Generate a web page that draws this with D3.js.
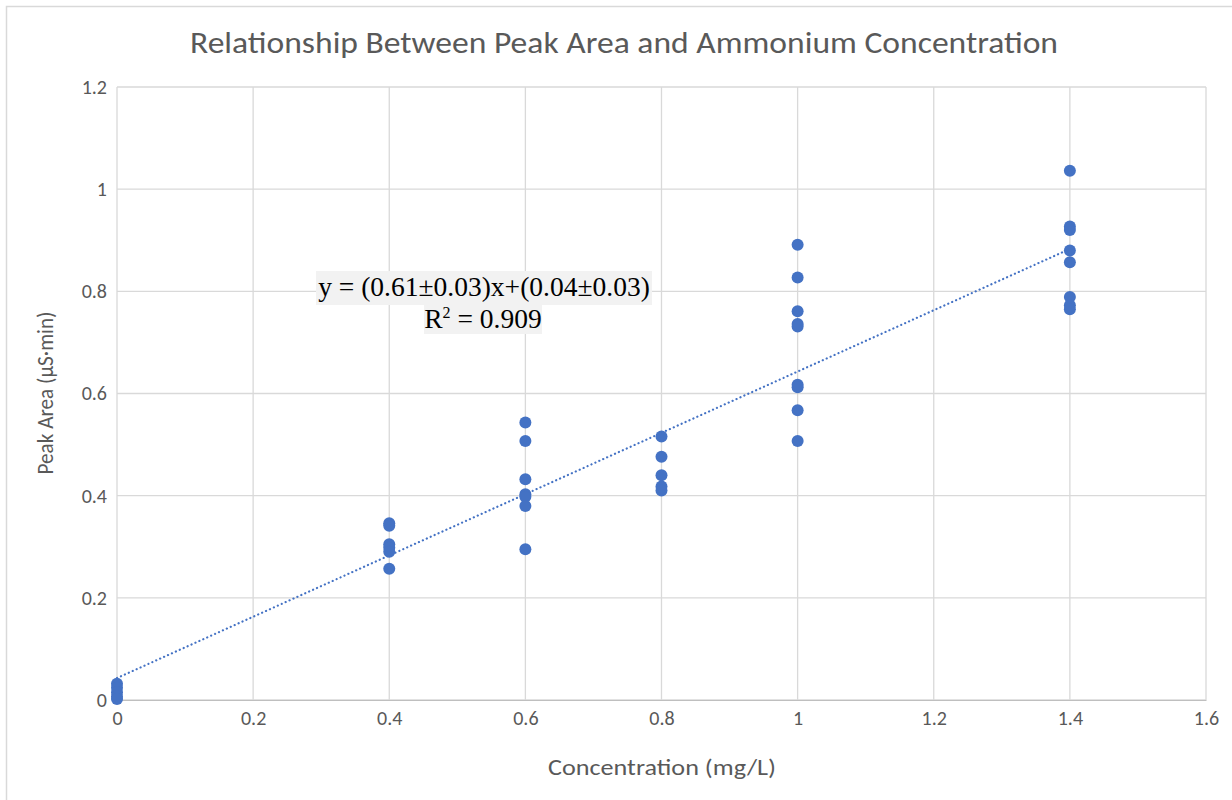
<!DOCTYPE html>
<html><head><meta charset="utf-8">
<script src="https://cdn.jsdelivr.net/npm/d3@7"></script>
<style>body{margin:0;background:#fff;} svg{display:block;}</style>
</head><body><svg id="c" width="1232" height="800"></svg>
<script>
const concentrations = [0,0,0,0,0, 0.4,0.4,0.4,0.4,0.4,0.4, 0.6,0.6,0.6,0.6,0.6,0.6,0.6, 0.8,0.8,0.8,0.8,0.8, 1,1,1,1,1,1,1,1,1, 1.4,1.4,1.4,1.4,1.4,1.4,1.4,1.4];
const peakAreas = [0.032,0.024,0.015,0.007,0.002, 0.346,0.341,0.305,0.298,0.290,0.257, 0.543,0.507,0.432,0.403,0.398,0.380,0.295, 0.516,0.476,0.440,0.418,0.410, 0.891,0.827,0.761,0.736,0.731,0.617,0.612,0.567,0.507, 1.036,0.927,0.920,0.880,0.857,0.789,0.773,0.765];
const xTicks = [0,0.2,0.4,0.6,0.8,1,1.2,1.4,1.6];
const yTicks = [0,0.2,0.4,0.6,0.8,1,1.2];
const trendSlope = 0.60, trendIntercept = 0.043;
const title = "Relationship Between Peak Area and Ammonium Concentration";
const xTitle = "Concentration (mg/L)";
const yTitle = "Peak Area (µS·min)";
const eqLine1 = "y = (0.61±0.03)x+(0.04±0.03)";

const svg = d3.select("#c");
const L=117,R=1206,T=87,B=700;
const x = d3.scaleLinear().domain([0,1.6]).range([L,R]);
const y = d3.scaleLinear().domain([0,1.2]).range([B,T]);
const gray="#595959", grid="#d9d9d9";
const sans="Carlito, Lato, sans-serif";

svg.append("rect").attr("x",6.5).attr("y",6.5).attr("width",1240).attr("height",800).attr("fill","none").attr("stroke",grid).attr("stroke-width",1.5);

svg.append("g").selectAll("line.v").data(xTicks).join("line")
  .attr("x1",d=>x(d)).attr("x2",d=>x(d)).attr("y1",T).attr("y2",B).attr("stroke",grid).attr("stroke-width",1.3);
svg.append("g").selectAll("line.h").data(yTicks).join("line")
  .attr("x1",L).attr("x2",R).attr("y1",d=>y(d)).attr("y2",d=>y(d)).attr("stroke",grid).attr("stroke-width",1.3);

const xAxis = svg.append("g").attr("transform",`translate(0,${B})`).call(d3.axisBottom(x).tickValues(xTicks).tickFormat(d=>String(d)).tickSize(0).tickPadding(11));
xAxis.select(".domain").attr("stroke","#bfbfbf");
xAxis.selectAll("text").attr("fill",gray).style("font-family",sans).style("font-size","20px");
const yAxis = svg.append("g").attr("transform",`translate(${L},0)`).call(d3.axisLeft(y).tickValues(yTicks).tickFormat(d=>String(d)).tickSize(0).tickPadding(10));
yAxis.select(".domain").remove();
yAxis.selectAll("text").attr("fill",gray).style("font-family",sans).style("font-size","20px");

// trendline
svg.append("line").attr("x1",x(0)).attr("y1",y(trendIntercept)).attr("x2",x(1.4)).attr("y2",y(trendIntercept+trendSlope*1.4))
  .attr("stroke","#4472C4").attr("stroke-width",2.2).attr("stroke-dasharray","0.1 4.2").attr("stroke-linecap","round");

// points
svg.append("g").selectAll("circle").data(d3.range(concentrations.length)).join("circle")
  .attr("cx",i=>x(concentrations[i])).attr("cy",i=>y(peakAreas[i])).attr("r",6).attr("fill","#4472C4");

// titles
svg.append("text").attr("x",624).attr("y",53).attr("text-anchor","middle").attr("fill",gray)
  .attr("textLength",868).attr("lengthAdjust","spacingAndGlyphs")
  .style("font-family",sans).style("font-size","31px").text(title);
svg.append("text").attr("x",662).attr("y",775).attr("text-anchor","middle").attr("fill",gray)
  .attr("textLength",228).attr("lengthAdjust","spacingAndGlyphs")
  .style("font-family",sans).style("font-size","23px").text(xTitle);
svg.append("text").attr("transform","translate(53,393) rotate(-90)").attr("text-anchor","middle").attr("fill",gray)
  .attr("textLength",163).attr("lengthAdjust","spacingAndGlyphs")
  .style("font-family",sans).style("font-size","23px").text(yTitle);

// equation label
svg.append("rect").attr("x",316).attr("y",271).attr("width",336).attr("height",34).attr("fill","#f2f2f2");
svg.append("rect").attr("x",424).attr("y",305).attr("width",118).attr("height",29).attr("fill","#f2f2f2");
svg.append("text").attr("x",484).attr("y",296).attr("text-anchor","middle").attr("fill","#000")
  .style("font-family","'Liberation Serif', serif").style("font-size","27.5px").text(eqLine1);
const r2 = svg.append("text").attr("x",483).attr("y",328).attr("text-anchor","middle").attr("fill","#000")
  .style("font-family","'Liberation Serif', serif").style("font-size","27.5px");
r2.append("tspan").text("R");
r2.append("tspan").attr("dy",-10).style("font-size","16px").text("2");
r2.append("tspan").attr("dy",10).text(" = 0.909");
</script></body></html>
